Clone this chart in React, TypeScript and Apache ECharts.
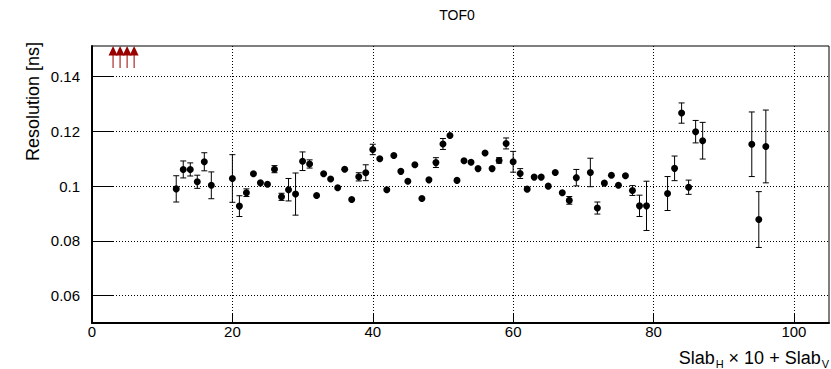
import React, { useEffect, useRef } from 'react';
import * as echarts from 'echarts';

const slabs = [
  12, 13, 14, 15, 16, 17, 20, 21, 22, 23, 24, 25, 26, 27, 28, 29, 30, 31, 32, 33,
  34, 35, 36, 37, 38, 39, 40, 41, 42, 43, 44, 45, 46, 47, 48, 49, 50, 51, 52, 53,
  54, 55, 56, 57, 58, 59, 60, 61, 62, 63, 64, 65, 66, 67, 68, 69, 71, 72, 73, 74,
  75, 76, 77, 78, 79, 82, 83, 84, 85, 86, 87, 94, 95, 96,
];
const resolution = [
  0.0990, 0.1061, 0.1061, 0.1016, 0.1089, 0.1003, 0.1028, 0.0927, 0.0976, 0.1045,
  0.1012, 0.1007, 0.1062, 0.0961, 0.0987, 0.0971, 0.1091, 0.1081, 0.0966, 0.1045,
  0.1026, 0.0994, 0.1062, 0.0951, 0.1034, 0.1049, 0.1134, 0.1100, 0.0987, 0.1112,
  0.1054, 0.1018, 0.1078, 0.0955, 0.1023, 0.1086, 0.1154, 0.1185, 0.1021, 0.1093,
  0.1087, 0.1064, 0.1121, 0.1064, 0.1094, 0.1156, 0.1089, 0.1046, 0.0989, 0.1033,
  0.1033, 0.1000, 0.1050, 0.0976, 0.0948, 0.1031, 0.1050, 0.0920, 0.1011, 0.1040,
  0.1003, 0.1038, 0.0984, 0.0928, 0.0928, 0.0973, 0.1065, 0.1267, 0.0996, 0.1199,
  0.1166, 0.1153, 0.0878, 0.1145,
];
const resolutionErr = [
  0.0048, 0.0031, 0.0024, 0.0024, 0.0033, 0.0049, 0.0087, 0.0038, 0.0014, 0,
  0, 0, 0.0013, 0.0013, 0.0041, 0.0077, 0.0034, 0.0015, 0, 0,
  0, 0, 0, 0, 0.0015, 0.0029, 0.0019, 0, 0, 0,
  0, 0, 0, 0, 0, 0.0018, 0.0020, 0, 0, 0,
  0, 0, 0, 0, 0.0010, 0.0020, 0.0038, 0.0018, 0, 0,
  0, 0, 0, 0, 0.0014, 0.0030, 0.0052, 0.0022, 0, 0,
  0, 0, 0.0018, 0.0039, 0.0090, 0.0062, 0.0045, 0.0037, 0.0026, 0.0041,
  0.0067, 0.0118, 0.0102, 0.0133,
];
// Slabs whose resolution lies above the displayed range (drawn as arrows)
const overflowSlabs = [3, 4, 5, 6];

const xTicks = [0, 20, 40, 60, 80, 100];
const yTicks = [0.06, 0.08, 0.1, 0.12, 0.14];
const X_MIN = 0;
const X_MAX = 105;
const Y_MIN = 0.05;
const Y_MAX = 0.1512;

const FONT = '"Liberation Sans", Arial, Helvetica, sans-serif';
const ARROW = '#990000';

export default function App() {
  const ref = useRef<HTMLDivElement>(null);

  useEffect(() => {
    const chart = echarts.init(ref.current!, null, { renderer: 'svg' });

    const errData = slabs
      .map((s, i) => [s, resolution[i] - resolutionErr[i], resolution[i] + resolutionErr[i], resolutionErr[i]])
      .filter((d) => d[3] > 0);

    const option = {
      animation: false,
      backgroundColor: '#ffffff',
      grid: {
        left: 92,
        right: 2,
        top: 46,
        bottom: 46,
        show: true,
        borderColor: '#000',
        borderWidth: 1,
        backgroundColor: 'transparent',
      },
      xAxis: {
        type: 'value',
        min: X_MIN,
        max: X_MAX,
        axisLine: { show: true, onZero: false, lineStyle: { color: '#000', width: 2 } },
        axisTick: {
          show: true,
          inside: true,
          length: 9,
          customValues: xTicks,
          lineStyle: { color: '#000', width: 1 },
        },
        axisLabel: {
          customValues: xTicks,
          color: '#000',
          fontSize: 15,
          fontFamily: FONT,
          margin: 1,
        },
        splitLine: { show: true, lineStyle: { color: '#000', width: 1, type: [1, 2] } },
      },
      yAxis: {
        type: 'value',
        min: Y_MIN,
        max: Y_MAX,
        axisLine: { show: true, onZero: false, lineStyle: { color: '#000', width: 2 } },
        axisTick: {
          show: true,
          inside: true,
          length: 21,
          customValues: yTicks,
          lineStyle: { color: '#000', width: 1 },
        },
        axisLabel: {
          customValues: yTicks,
          color: '#000',
          fontSize: 15,
          fontFamily: FONT,
          margin: 12,
          formatter: (v: number) => String(Number(v.toFixed(3))),
        },
        splitLine: { show: true, lineStyle: { color: '#000', width: 1, type: [1, 2] } },
      },
      graphic: [
        {
          type: 'text',
          x: 457,
          y: 15,
          style: {
            text: 'TOF0',
            fontSize: 14,
            fontFamily: FONT,
            fill: '#000',
            align: 'center',
            verticalAlign: 'middle',
          },
        },
        {
          type: 'text',
          x: 33,
          y: 42,
          rotation: Math.PI / 2,
          style: {
            text: 'Resolution [ns]',
            fontSize: 18,
            fontFamily: FONT,
            fill: '#000',
            align: 'right',
            verticalAlign: 'middle',
          },
        },
        {
          type: 'text',
          x: 829,
          y: 369,
          style: {
            text: '{m|Slab}{s|H}{m| × 10 + Slab}{s|V}',
            align: 'right',
            verticalAlign: 'bottom',
            fill: '#000',
            rich: {
              m: { fontSize: 18, fontFamily: FONT, fill: '#000', lineHeight: 20, verticalAlign: 'top' },
              s: {
                fontSize: 11,
                fontFamily: FONT,
                fill: '#000',
                lineHeight: 11,
                padding: [14, 0, 0, 1],
                verticalAlign: 'bottom',
              },
            },
          },
        },
      ],
      series: [
        {
          type: 'custom',
          name: 'errors',
          data: errData,
          encode: { x: 0, y: [1, 2] },
          z: 2,
          renderItem: (params: any, api: any) => {
            const x = api.value(0);
            const a = api.coord([x, api.value(1)]);
            const b = api.coord([x, api.value(2)]);
            const style = { stroke: '#000', lineWidth: 1, fill: 'none' };
            return {
              type: 'group',
              children: [
                { type: 'line', shape: { x1: a[0], y1: a[1], x2: b[0], y2: b[1] }, style },
                { type: 'line', shape: { x1: a[0] - 3, y1: a[1], x2: a[0] + 3, y2: a[1] }, style },
                { type: 'line', shape: { x1: b[0] - 3, y1: b[1], x2: b[0] + 3, y2: b[1] }, style },
              ],
            };
          },
        },
        {
          type: 'scatter',
          name: 'resolution',
          data: slabs.map((s, i) => [s, resolution[i]]),
          symbol: 'circle',
          symbolSize: 7,
          itemStyle: { color: '#000', opacity: 1 },
          z: 3,
        },
        {
          type: 'custom',
          name: 'overflow',
          data: overflowSlabs.map((s) => [s, Y_MAX]),
          encode: { x: 0, y: 1 },
          clip: false,
          z: 4,
          renderItem: (params: any, api: any) => {
            const p = api.coord([api.value(0), api.value(1)]);
            const x = p[0];
            const top = p[1];
            return {
              type: 'group',
              children: [
                {
                  type: 'line',
                  shape: { x1: x, y1: top + 9, x2: x, y2: top + 22 },
                  style: { stroke: ARROW, lineWidth: 1 },
                },
                {
                  type: 'polygon',
                  shape: { points: [[x - 4.5, top + 9.5], [x + 4.5, top + 9.5], [x, top]] },
                  style: { fill: ARROW },
                },
              ],
            };
          },
        },
      ],
    };

    chart.setOption(option as any);
    return () => chart.dispose();
  }, []);

  return (
    <div
      ref={ref}
      style={{ position: 'absolute', left: 0, top: 0, width: 831, height: 369 }}
    />
  );
}
